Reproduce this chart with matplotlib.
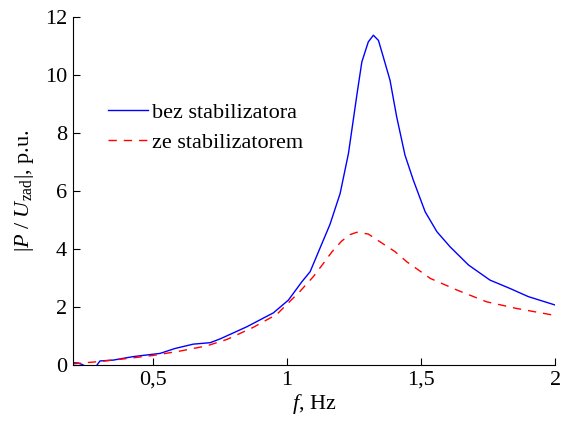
import matplotlib.pyplot as plt

plt.rcParams.update({
    "font.family": "Liberation Serif",
    "mathtext.fontset": "custom",
    "mathtext.rm": "Liberation Serif",
    "mathtext.it": "Liberation Serif:italic",
    "font.size": 16,
})

# bez stabilizatora (blue, solid)
f_bez = [0.2, 0.22, 0.235, 0.26, 0.287, 0.302, 0.352, 0.426, 0.526, 0.582, 0.65, 0.713,
         0.75, 0.85, 0.949, 1.005, 1.055, 1.086, 1.135, 1.16, 1.198, 1.229, 1.262,
         1.279, 1.303, 1.322, 1.341, 1.359, 1.384, 1.409, 1.44, 1.471, 1.515, 1.559,
         1.608, 1.677, 1.757, 1.832, 1.9, 2.0]
p_bez = [0.08, 0.07, 0.02, -0.1, -0.05, 0.14, 0.17, 0.29, 0.4, 0.57, 0.72, 0.77,
         0.9, 1.32, 1.8, 2.24, 2.87, 3.22, 4.3, 4.85, 5.92, 7.3, 9.42,
         10.46, 11.15, 11.38, 11.2, 10.63, 9.83, 8.56, 7.24, 6.38, 5.29, 4.6,
         4.08, 3.45, 2.93, 2.64, 2.36, 2.07]

# ze stabilizatorem (red, dashed)
f_ze = [0.2, 0.3, 0.4, 0.5, 0.6, 0.7, 0.775, 0.874, 0.962, 1.0, 1.049, 1.098, 1.135,
        1.167, 1.204, 1.235, 1.26, 1.303, 1.347, 1.403, 1.447, 1.49, 1.534, 1.633,
        1.745, 1.857, 1.994]
p_ze = [0.04, 0.12, 0.22, 0.33, 0.48, 0.66, 0.88, 1.3, 1.75, 2.1, 2.55, 3.05, 3.5,
        3.9, 4.28, 4.5, 4.58, 4.52, 4.25, 3.91, 3.56, 3.28, 2.99, 2.59,
        2.18, 1.95, 1.72]

fig = plt.figure(figsize=(5.63, 4.21), dpi=100)
ax = fig.add_axes([0.129, 0.133, 0.857, 0.826])

ax.plot(f_bez, p_bez, color="#0000ff", linewidth=1.0, label="bez stabilizatora")
ax.plot(f_ze, p_ze, color="#ff0000", linewidth=1.0, linestyle=(0, (6, 5)),
        label="ze stabilizatorem")

ax.set_xlim(0.2, 2)
ax.set_ylim(0, 12)
ax.set_xticks([0.5, 1, 1.5, 2])
ax.set_xticklabels(["0,5", "1", "1,5", "2"])
ax.set_yticks(range(0, 13, 2))
ax.tick_params(direction="in", length=5, width=0.8, pad=4)
ax.spines["top"].set_visible(False)
ax.spines["right"].set_visible(False)

ax.set_xlabel(r"$f$, Hz", labelpad=2)
ax.set_ylabel(r"$|P\ /\ U_{\mathrm{zad}}|$, p.u.", labelpad=6)

ax.legend(loc="upper left", bbox_to_anchor=(0.055, 0.78), frameon=False, fontsize=16,
          handlelength=1.8, handletextpad=0.2, labelspacing=0.4, borderaxespad=0)

fig.savefig("out.png", dpi=100)
